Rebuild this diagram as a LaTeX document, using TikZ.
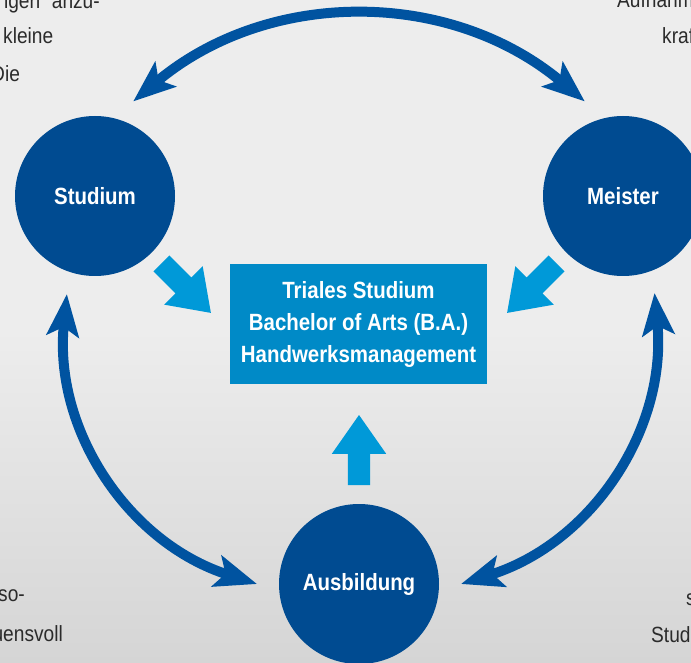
\documentclass[tikz,border=0pt]{standalone}
\usepackage{fontspec}
\setmainfont{Liberation Sans}[FakeStretch=0.87]
\usetikzlibrary{shapes.arrows,arrows.meta}

\definecolor{circblue}{HTML}{004B91}
\definecolor{arcblue}{HTML}{0053A0}
\definecolor{pushblue}{HTML}{0099D8}
\definecolor{boxblue}{HTML}{008AC7}
\definecolor{bgtop}{HTML}{EDEDED}
\definecolor{bgbot}{HTML}{D5D5D5}
\definecolor{bodytext}{HTML}{2B2B2B}

\begin{document}
\begin{tikzpicture}[x=1pt,y=1pt,
    station/.style={circle,fill=circblue,minimum size=160pt,inner sep=0pt,outer sep=22pt,
      text=white,font=\fontsize{23.5}{28}\selectfont\bfseries},
    loop/.style={draw=arcblue,line width=10pt,
      {Stealth[length=42pt,width=32pt,inset=9pt]}-{Stealth[length=42pt,width=32pt,inset=9pt]}},
    push/.style={single arrow,fill=pushblue,minimum height=70pt,minimum width=54pt,
      single arrow head extend=16pt,single arrow tip angle=70,inner xsep=0pt,inner ysep=11pt},
    body/.style={text=bodytext,font=\fontsize{22}{37}\selectfont,inner sep=0pt}]
  \useasboundingbox (0,0) rectangle (691,-663);
  \clip (0,0) rectangle (691,-663);

  % background
  \fill[bgtop] (0,0) rectangle (691,-330);
  \shade[top color=bgtop,bottom color=bgbot] (0,-330) rectangle (691,-663);

  % cut text of the page
  \node[body,anchor=base east] (pa1) at (100,-9) {igen“ anzu-};
  \node[body,anchor=base west] (pa2) at (3,-44) {kleine};
  \node[body,anchor=base west] (pa3) at (-9,-82) {Die};
  \node[body,anchor=base west] (pb1) at (617,-8) {Aufnahm};
  \node[body,anchor=base west] (pb2) at (662,-44) {kraf};
  \node[body,anchor=base east] (pc1) at (25,-601) {so-};
  \node[body,anchor=base east] (pc2) at (63,-641) {uensvoll};
  \node[body,anchor=base west] (pd1) at (686,-605) {s};
  \node[body,anchor=base west] (pd2) at (651,-642) {Stud};

  % the three ways
  \node[station] (stud) at (95,-196) {Studium};
  \node[station] (meis) at (623,-196) {Meister};
  \node[station] (ausb) at (359,-584) {Ausbildung};

  \draw[loop] (stud.68) to[bend left=40] (meis.112);
  \draw[loop] (stud.254) to[bend right=39] (ausb.180);
  \draw[loop] (meis.288) to[bend left=39] (ausb.0);

  \node[fill=boxblue,minimum width=257pt,minimum height=120pt,text=white,align=center,
    font=\fontsize{23.5}{32}\selectfont\bfseries] (trial) at (358.5,-324)
    {Triales Studium\\Bachelor of Arts (B.A.)\\Handwerksmanagement};

  \node[push,rotate=-45] (fromstud) at (180.5,-282.5) {};
  \node[push,rotate=-135] (frommeis) at (537.5,-282.5) {};
  \node[push,rotate=90] (fromausb) at (359,-458) {};
\end{tikzpicture}
\end{document}
